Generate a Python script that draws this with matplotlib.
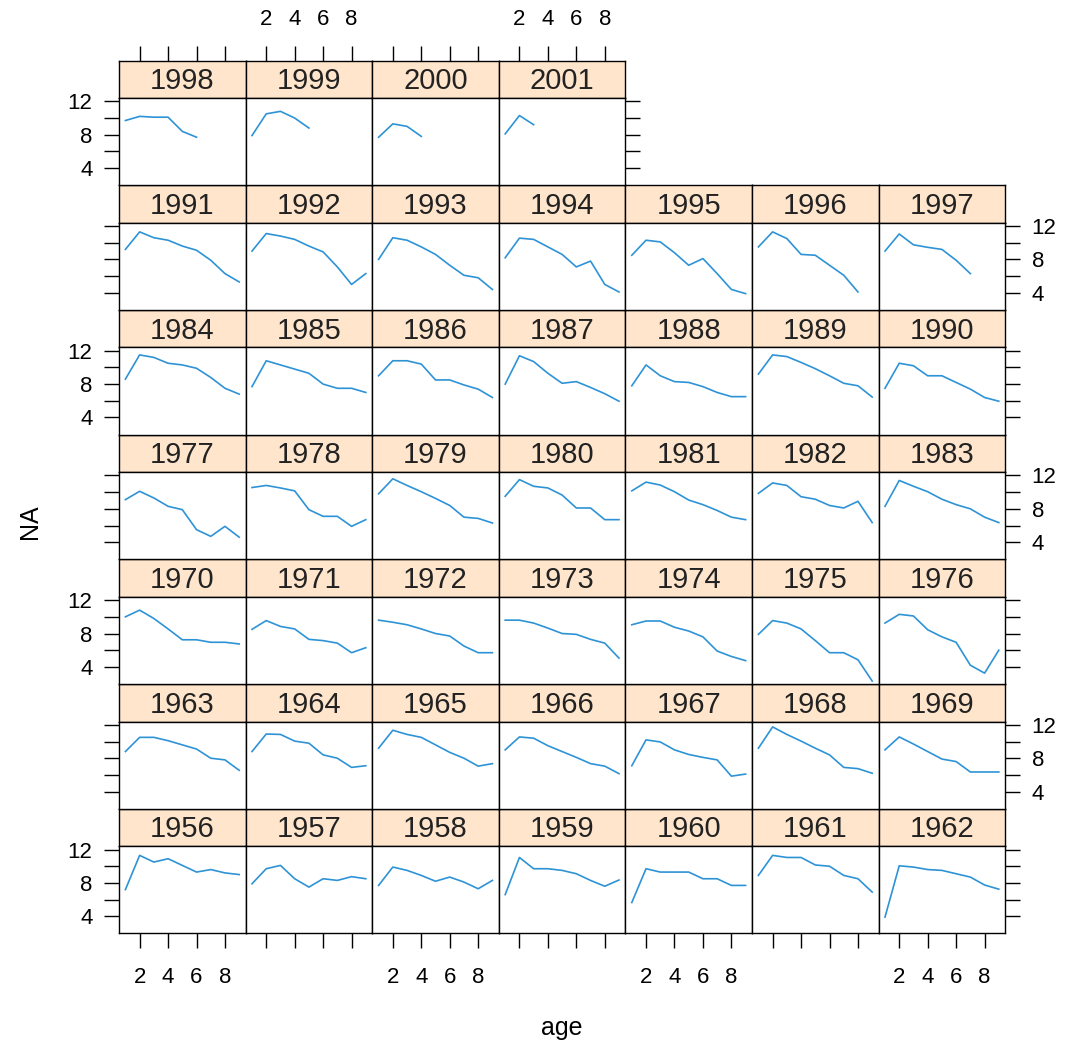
import numpy as np
import matplotlib
matplotlib.use("Agg")
import matplotlib.pyplot as plt

plt.rcParams["font.family"] = ["Liberation Sans", "DejaVu Sans"]

# ---- data: one series per year class, values at age 1, 2, 3, ... ----------

ages = np.arange(1, 10)

y1956 = [7.2, 11.3, 10.5, 10.9, 10.1, 9.3, 9.6, 9.2, 9.0]
y1957 = [7.9, 9.7, 10.1, 8.5, 7.5, 8.5, 8.3, 8.75, 8.5]
y1958 = [7.7, 9.9, 9.5, 8.9, 8.2, 8.7, 8.1, 7.3, 8.3]
y1959 = [6.6, 11.05, 9.7, 9.7, 9.5, 9.1, 8.3, 7.6, 8.35]
y1960 = [5.65, 9.7, 9.3, 9.3, 9.3, 8.5, 8.5, 7.7, 7.7]
y1961 = [8.9, 11.3, 11.05, 11.05, 10.15, 10.0, 8.9, 8.5, 6.9]
y1962 = [3.9, 10.05, 9.9, 9.6, 9.5, 9.1, 8.7, 7.75, 7.25]

y1963 = [8.8, 10.5, 10.5, 10.1, 9.6, 9.1, 8.0, 7.8, 6.55]
y1964 = [8.8, 10.9, 10.85, 10.05, 9.8, 8.4, 8.0, 6.9, 7.1]
y1965 = [9.2, 11.35, 10.85, 10.5, 9.6, 8.7, 8.0, 7.05, 7.35]
y1966 = [9.0, 10.55, 10.4, 9.5, 8.8, 8.1, 7.35, 7.05, 6.15]
y1967 = [7.1, 10.2, 9.95, 9.0, 8.45, 8.1, 7.8, 5.85, 6.1]
y1968 = [9.2, 11.75, 10.85, 10.05, 9.2, 8.4, 6.9, 6.75, 6.2]
y1969 = [9.0, 10.55, 9.7, 8.8, 7.9, 7.6, 6.35, 6.35, 6.35]

y1970 = [10.0, 10.8, 9.8, 8.55, 7.25, 7.25, 6.95, 6.95, 6.75]
y1971 = [8.5, 9.55, 8.85, 8.55, 7.3, 7.15, 6.85, 5.7, 6.3]
y1972 = [9.6, 9.35, 9.05, 8.55, 8.0, 7.7, 6.5, 5.7, 5.7]
y1973 = [9.6, 9.6, 9.25, 8.65, 8.0, 7.9, 7.3, 6.85, 5.05]
y1974 = [9.05, 9.5, 9.5, 8.75, 8.3, 7.6, 5.9, 5.25, 4.75]
y1975 = [7.9, 9.55, 9.25, 8.55, 7.15, 5.7, 5.7, 4.85, 2.3]
y1976 = [9.25, 10.3, 10.1, 8.45, 7.6, 6.95, 4.2, 3.25, 6.0]

y1977 = [9.1, 10.1, 9.3, 8.3, 7.9, 5.5, 4.7, 5.9, 4.6]
y1978 = [10.55, 10.8, 10.5, 10.15, 7.9, 7.1, 7.1, 5.9, 6.7]
y1979 = [9.8, 11.6, 10.8, 10.05, 9.25, 8.4, 7.0, 6.85, 6.3]
y1980 = [9.5, 11.5, 10.7, 10.5, 9.65, 8.1, 8.1, 6.7, 6.7]
y1981 = [10.15, 11.2, 10.85, 10.05, 9.05, 8.5, 7.8, 7.0, 6.7]
y1982 = [9.85, 11.1, 10.8, 9.45, 9.15, 8.4, 8.1, 8.9, 6.35]
y1983 = [8.3, 11.4, 10.7, 10.05, 9.15, 8.5, 8.0, 7.0, 6.35]

y1984 = [8.6, 11.5, 11.2, 10.5, 10.3, 9.9, 8.8, 7.5, 6.8]
y1985 = [7.7, 10.8, 10.3, 9.8, 9.3, 8.0, 7.5, 7.5, 7.0]
y1986 = [9.0, 10.8, 10.8, 10.4, 8.5, 8.5, 7.9, 7.4, 6.4]
y1987 = [8.0, 11.4, 10.7, 9.3, 8.1, 8.3, 7.6, 6.85, 5.95]
y1988 = [7.8, 10.3, 9.0, 8.3, 8.2, 7.7, 7.0, 6.5, 6.5]
y1989 = [9.2, 11.5, 11.3, 10.6, 9.85, 9.0, 8.1, 7.8, 6.45]
y1990 = [7.5, 10.5, 10.2, 9.0, 9.0, 8.2, 7.4, 6.4, 5.95]

y1991 = [9.2, 11.3, 10.6, 10.3, 9.6, 9.1, 7.9, 6.3, 5.3]
y1992 = [9.0, 11.1, 10.8, 10.4, 9.6, 8.9, 7.1, 5.0, 6.3]
y1993 = [8.0, 10.6, 10.3, 9.5, 8.6, 7.3, 6.1, 5.8, 4.4]
y1994 = [8.2, 10.55, 10.4, 9.5, 8.6, 7.1, 7.8, 5.0, 4.1]
y1995 = [8.5, 10.3, 10.1, 8.8, 7.3, 8.1, 6.3, 4.4, 3.9]
y1996 = [9.5, 11.3, 10.5, 8.6, 8.5, 7.3, 6.1, 4.1]
y1997 = [9.0, 11.05, 9.75, 9.45, 9.2, 7.9, 6.3]

y1998 = [9.7, 10.2, 10.1, 10.1, 8.4, 7.7]
y1999 = [7.9, 10.5, 10.8, 10.0, 8.8]
y2000 = [7.7, 9.3, 9.0, 7.8]
y2001 = [8.1, 10.3, 9.2]

years = list(range(1956, 2002))
series = {yr: globals()["y%d" % yr] for yr in years}

x_ticks = [2, 4, 6, 8]
y_ticks = [4, 6, 8, 10, 12]
y_labels = ["4", "", "8", "", "12"]

# ---- layout (pixels of the 1066 x 1048 picture) ----------------------------

W, H = 1066, 1048
ncol, nrow = 7, 7
left0, pw = 119, 126.6
top0, pitch, sh = 60.5, 124.7, 37.5
ph = pitch - sh

line_col = "#2e93d6"
strip_col = "#ffe5cc"
lw_box = 1.0
tick_size = 16

fig = plt.figure(figsize=(W / 100, H / 100), dpi=100)


def add_px_axes(x, y, w, h):
    return fig.add_axes([x / W, 1 - (y + h) / H, w / W, h / H])


for i, yr in enumerate(years):
    col = i % ncol
    row = nrow - 1 - i // ncol   # 0 = top row
    x = left0 + col * pw
    ys = top0 + row * pitch

    # strip
    st = add_px_axes(x, ys, pw, sh)
    st.set_facecolor(strip_col)
    st.set_xticks([])
    st.set_yticks([])
    for s in st.spines.values():
        s.set_linewidth(lw_box)
    st.text(0.5, 0.45, str(yr), ha="center", va="center", fontsize=21,
            color="#222222", transform=st.transAxes)

    # panel
    ax = add_px_axes(x, ys + sh, pw, ph)
    vals = series[yr]
    ax.plot(ages[:len(vals)], vals, color=line_col, lw=1.2)
    ax.set_xlim(0.55, 9.45)
    ax.set_ylim(1.95, 12.4)
    for s in ax.spines.values():
        s.set_linewidth(lw_box)

    last_in_row = (col == ncol - 1) or (yr == years[-1])
    ax.set_xticks(x_ticks)
    ax.set_yticks(y_ticks)
    ax.set_yticklabels(y_labels)
    ax.set_xticklabels([str(t) for t in x_ticks])
    ax.tick_params(direction="out", length=11, width=1.0, labelsize=tick_size,
                   bottom=(row == nrow - 1), labelbottom=(row == nrow - 1 and col % 2 == 0),
                   top=(row == 0), labeltop=(row == 0 and col % 2 == 1),
                   left=(col == 0), labelleft=(col == 0 and row % 2 == 0),
                   right=last_in_row, labelright=(last_in_row and row % 2 == 1))
    ax.tick_params(axis="x", pad=13)
    ax.tick_params(axis="y", pad=8)

    # strip sits between panel and top ticks for the top row
    if row == 0:
        ax.tick_params(top=False, labeltop=False)
        st.tick_params(direction="out", length=11, width=1.0, labelsize=tick_size,
                       top=True, labeltop=(col % 2 == 1), bottom=False,
                       labelbottom=False, left=False, labelleft=False, pad=11)
        st.set_xlim(0.55, 9.45)
        st.set_xticks(x_ticks)
        st.set_xticklabels([str(t) for t in x_ticks])

fig.text((left0 + left0 + ncol * pw) / 2 / W, 1 - 1028 / H, "age",
         ha="center", va="center", fontsize=18)
fig.text(30 / W, 1 - 522 / H, "NA", ha="center", va="center",
         rotation=90, fontsize=18)

fig.savefig("out.png", dpi=100, facecolor="white")
